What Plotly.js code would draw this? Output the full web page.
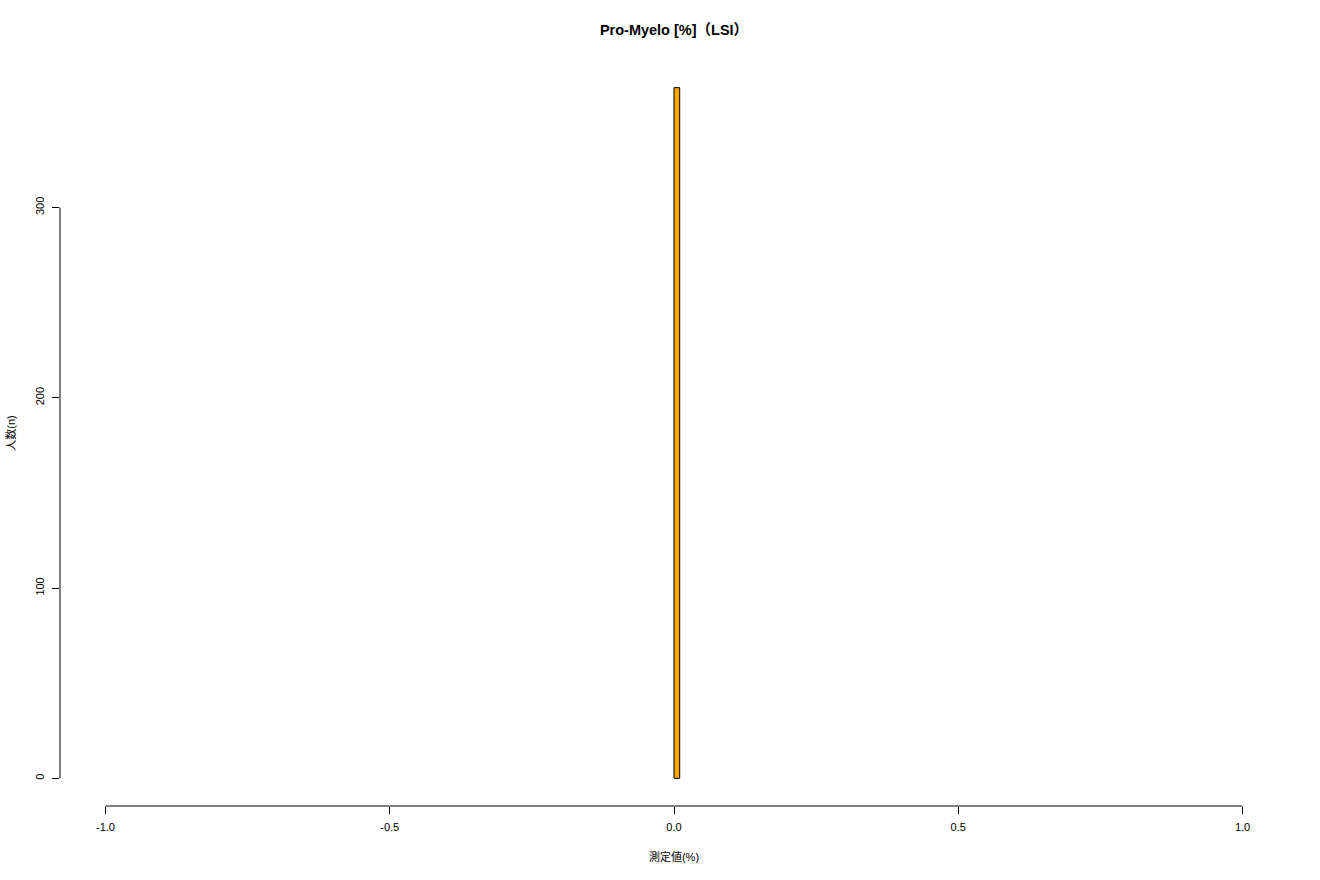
<!DOCTYPE html>
<html>
<head>
<meta charset="utf-8">
<script src="https://cdn.plot.ly/plotly-3.0.1.min.js"></script>
<style>
  html, body { margin: 0; padding: 0; background: #fff; }
  #myDiv { width: 1320px; height: 880px; }
</style>
</head>
<body>
<div id="myDiv"></div>
<script>
// histogram bins (lower edge, upper edge) and counts
var binStart = [0];
var binEnd = [0.01];
var counts = [363];

var xTicks = [-1, -0.5, 0, 0.5, 1];
var xTickText = ['-1.0', '-0.5', '0.0', '0.5', '1.0'];
var yTicks = [0, 100, 200, 300];

var font = 'Liberation Sans, Arial, Noto Sans CJK JP, sans-serif';

var bars = {
  type: 'bar',
  x: binStart.map(function (s, i) { return (s + binEnd[i]) / 2; }),
  y: counts,
  width: binStart.map(function (s, i) { return binEnd[i] - s; }),
  marker: {
    color: '#FFA500',
    line: { color: '#000', width: 1 }
  },
  hoverinfo: 'x+y'
};

var layout = {
  width: 1320,
  height: 880,
  margin: { l: 59.5, r: 31.5, t: 59.5, b: 74 },
  paper_bgcolor: '#fff',
  plot_bgcolor: '#fff',
  showlegend: false,
  font: { family: font, size: 11, color: '#000' },
  title: {
    text: '<b>Pro-Myelo [%]（LSI）</b>',
    xref: 'paper',
    x: 0.5,
    xanchor: 'center',
    y: 0.966,
    yanchor: 'middle',
    font: { family: font, size: 14.5, color: '#000' }
  },
  xaxis: {
    range: [-1.08, 1.08],
    tickmode: 'array',
    tickvals: xTicks,
    ticktext: xTickText,
    ticks: 'outside',
    ticklen: 7,
    tickcolor: '#000',
    ticklabelstandoff: 4,
    showgrid: false,
    zeroline: false,
    showline: false,
    title: { text: '測定値(%)', standoff: 21, font: { family: font, size: 11 } }
  },
  yaxis: {
    range: [-14.52, 377.52],
    tickmode: 'array',
    tickvals: yTicks,
    ticks: 'outside',
    ticklen: 7,
    tickcolor: '#000',
    tickangle: -90,
    ticklabelstandoff: 4,
    showgrid: false,
    zeroline: false,
    showline: false,
    title: { text: '人数(n)', standoff: 15, font: { family: font, size: 11 } }
  },
  shapes: [
    {
      type: 'line', xref: 'x', yref: 'paper',
      x0: xTicks[0], x1: xTicks[xTicks.length - 1], y0: 0, y1: 0,
      line: { color: '#000', width: 1 }
    },
    {
      type: 'line', xref: 'paper', yref: 'y',
      x0: 0, x1: 0, y0: yTicks[0], y1: yTicks[yTicks.length - 1],
      line: { color: '#000', width: 1 }
    }
  ]
};

Plotly.newPlot('myDiv', [bars], layout, { displayModeBar: false, staticPlot: true });
</script>
</body>
</html>
